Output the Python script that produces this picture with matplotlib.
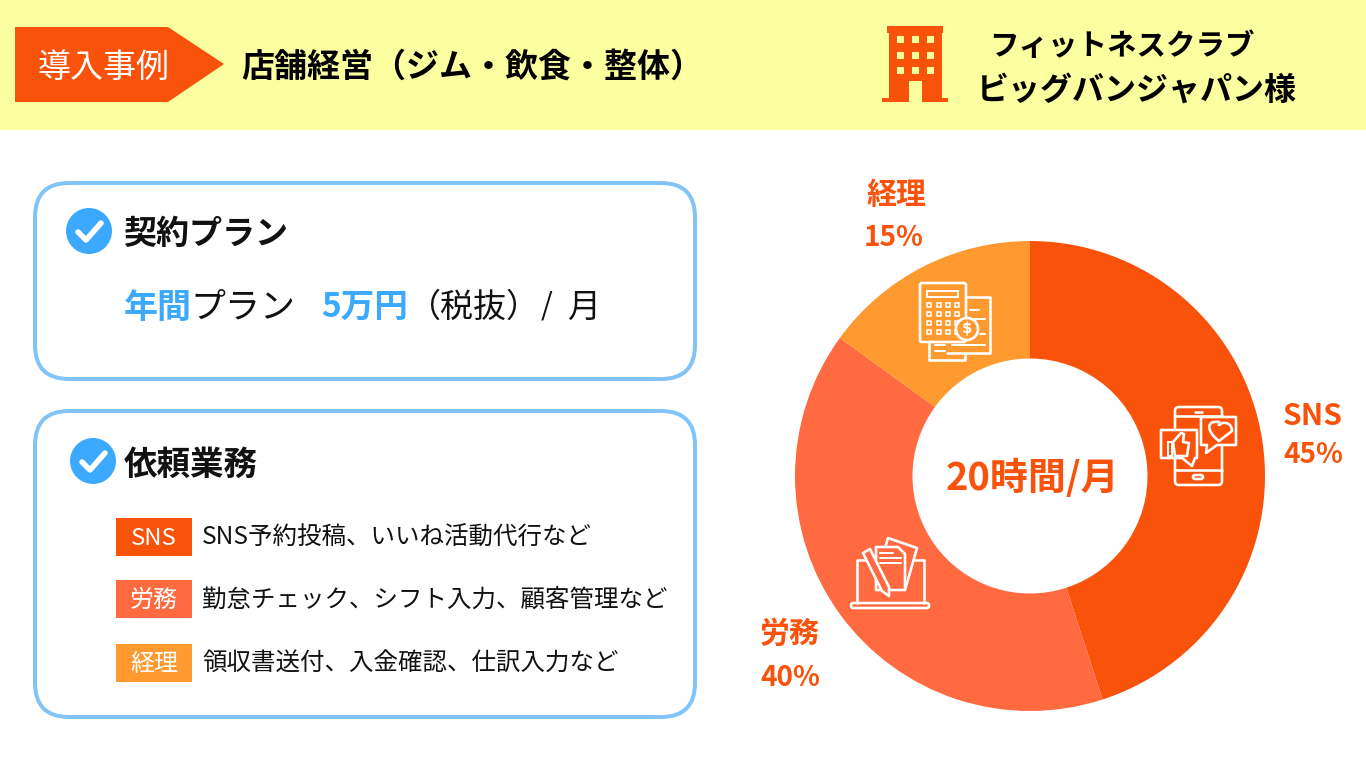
#!/usr/bin/env python3
"""Case study slide: plan summary and monthly work breakdown donut"""

import matplotlib
matplotlib.use('Agg')
import matplotlib.pyplot as plt
from matplotlib.patches import FancyBboxPatch, Polygon, Rectangle, Circle, PathPatch
from matplotlib.path import Path

plt.rcParams['font.family'] = ['Noto Sans CJK JP', 'DejaVu Sans']

# Data
categories = ['SNS', '労務', '経理']
shares = [45, 40, 15]
slice_colors = ['#F9520B', '#FF6A40', '#FF9A30']
task_texts = ['SNS予約投稿、いいね活動代行など',
              '勤怠チェック、シフト入力、顧客管理など',
              '領収書送付、入金確認、仕訳入力など']
center_label = '20時間/月'

ORANGE = '#F9520B'
BLUE = '#3AA9FF'
BORDER = '#82C4F8'
YELLOW = '#FBFFA0'
DARK = '#111111'
ICON_LW = 2.6


def px(size):
    """pixel size to points at dpi 100"""
    return size * 0.72


def label(ax, x, y, s, size, color=DARK, bold=False, ha='left', z=5):
    # CJK glyphs sit a little high with va=center, so nudge down
    ax.text(x, y + size * 0.1, s, color=color, fontsize=px(size),
            fontweight='bold' if bold else 'normal', ha=ha, va='center', zorder=z)


def line(ax, pts, lw=ICON_LW, color='white', z=6):
    xs, ys = zip(*pts)
    ax.plot(xs, ys, color=color, lw=px(lw), zorder=z, solid_capstyle='round',
            solid_joinstyle='round')


def box(ax, x0, y0, x1, y1, lw=ICON_LW, fc='none', ec='white', z=6, r=0):
    style = f"round,pad=0,rounding_size={r}" if r else "square,pad=0"
    ax.add_patch(FancyBboxPatch((x0, y0), x1 - x0, y1 - y0, boxstyle=style,
                                fc=fc, ec=ec, lw=px(lw), zorder=z))


def poly(ax, pts, fc='none', z=7):
    ax.add_patch(Polygon(pts, fc=fc, ec='white', lw=px(ICON_LW), zorder=z, joinstyle='round'))


def check_badge(ax, cx, cy):
    ax.add_patch(Circle((cx, cy), 23, fc=BLUE, ec='none', zorder=3))
    line(ax, [(cx - 11, cy + 1), (cx - 3, cy + 9), (cx + 12, cy - 8)], lw=5.5, z=4)


def building_icon(ax):
    ax.add_patch(Rectangle((887, 26), 56, 7, fc=ORANGE, ec='none', zorder=3))
    ax.add_patch(Rectangle((889, 33), 53, 65, fc=ORANGE, ec='none', zorder=3))
    ax.add_patch(Rectangle((882, 98), 66, 4, fc=ORANGE, ec='none', zorder=3))
    ax.add_patch(Rectangle((909, 81), 13, 21, fc=YELLOW, ec='none', zorder=4))
    for wx in (897, 912, 927):
        for wy in (36, 52, 67):
            ax.add_patch(Rectangle((wx, wy), 7, 7, fc=YELLOW, ec='none', zorder=4))


def calculator_icon(ax):
    # papers behind
    line(ax, [(966, 297), (990, 297), (990, 353), (947, 353)])
    line(ax, [(929, 342), (929, 360), (965, 360), (965, 353)])
    for x0, x1, y in [(970, 979, 310), (973, 985, 319), (980, 985, 334),
                      (935, 945, 345), (935, 945, 351), (952, 985, 345)]:
        line(ax, [(x0, y), (x1, y)], lw=2)
    # calculator
    box(ax, 920, 283, 966, 342, fc=slice_colors[2], r=2)
    box(ax, 927, 291, 958, 297, lw=2)
    for bx in (929, 939, 948, 957):
        for by in (305, 314, 323, 332):
            box(ax, bx - 2.2, by - 2.2, bx + 2.2, by + 2.2, lw=1.6)
    # coin
    ax.add_patch(Circle((967, 329), 11, fc=slice_colors[2], ec='white', lw=px(ICON_LW), zorder=7))
    ax.text(967, 329, '$', color='white', fontsize=px(15), fontweight='bold',
            ha='center', va='center', zorder=8, family='DejaVu Sans')


def phone_icon(ax):
    c = slice_colors[0]
    box(ax, 1175, 407, 1222, 485, r=4)
    line(ax, [(1175, 416), (1222, 416)])
    line(ax, [(1175, 470), (1222, 470)])
    line(ax, [(1195, 412), (1202, 412)])
    box(ax, 1193, 475, 1203, 479, r=2)
    # heart bubble
    poly(ax, [(1201, 417), (1236, 417), (1236, 445), (1217, 445), (1206, 453),
              (1207, 445), (1201, 445)], fc=c)
    heart = Path([(1219, 441), (1206, 431), (1206, 420), (1219, 422), (1219, 426),
                  (1219, 422), (1232, 420), (1232, 431), (1219, 441)],
                 [Path.MOVETO, Path.CURVE4, Path.CURVE4, Path.CURVE4, Path.LINETO,
                  Path.CURVE4, Path.CURVE4, Path.CURVE4, Path.CLOSEPOLY])
    ax.add_patch(PathPatch(heart, fc='none', ec='white', lw=px(ICON_LW), zorder=8))
    # thumb bubble
    poly(ax, [(1161, 430), (1197, 430), (1197, 458), (1195, 458), (1192, 466),
              (1182, 458), (1161, 458)], fc=c)
    poly(ax, [(1173, 442), (1181, 433), (1184, 434), (1183, 442), (1189, 443),
              (1187, 456), (1175, 456)], z=8)
    box(ax, 1168, 442, 1172, 456, lw=2, z=8)


def laptop_icon(ax):
    c = slice_colors[1]
    line(ax, [(857, 603), (857, 560), (924, 560), (924, 603)])
    box(ax, 851, 603, 929, 608, r=2)
    # back sheet
    poly(ax, [(888, 538), (917, 548), (905, 590), (876, 580)], fc=c, z=6)
    # front sheet
    poly(ax, [(876, 547), (898, 547), (905, 554), (905, 590), (876, 590)], fc=c, z=7)
    line(ax, [(880, 553), (893, 553)], lw=2, z=8)
    line(ax, [(880, 558), (901, 558)], lw=2, z=8)
    line(ax, [(880, 563), (901, 563)], lw=2, z=8)
    # pencil
    poly(ax, [(863, 553), (870, 549), (889, 587), (889, 596), (882, 591)], fc=c, z=8)


fig = plt.figure(figsize=(13.66, 7.68), dpi=100, facecolor='white')

# Base layer in pixel coordinates
ax = fig.add_axes([0, 0, 1, 1])
ax.set_xlim(0, 1366)
ax.set_ylim(768, 0)
ax.axis('off')

# Header band
ax.add_patch(Rectangle((0, 0), 1366, 130, fc=YELLOW, ec='none', zorder=1))
ax.add_patch(Polygon([(15, 27), (168, 27), (224, 64), (168, 102), (15, 102)],
                     fc=ORANGE, ec='none', zorder=2))
label(ax, 104, 64, '導入事例', 33, color='white', ha='center')
label(ax, 241, 64, '店舗経営（ジム・飲食・整体）', 33, color='black', bold=True)
building_icon(ax)
label(ax, 1122, 43, 'フィットネスクラブ', 29.5, color='black', bold=True, ha='center')
label(ax, 1137, 87, 'ビッグバンジャパン様', 32, color='black', bold=True, ha='center')

# Plan panel
box(ax, 35, 183, 695, 379, lw=4, ec=BORDER, fc='white', z=2, r=34)
check_badge(ax, 89, 231)
label(ax, 123, 231, '契約プラン', 33, bold=True)
label(ax, 124, 304, '年間', 34, color=BLUE, bold=True)
label(ax, 190, 304, 'プラン', 35)
label(ax, 321, 304, '5万円', 33.5, color=BLUE, bold=True)
label(ax, 407, 304, '（税抜）', 33)
label(ax, 547, 303, '/', 30, ha='center')
label(ax, 568, 304, '月', 33)

# Task panel
box(ax, 35, 411, 695, 717, lw=4, ec=BORDER, fc='white', z=2, r=34)
check_badge(ax, 93, 461)
label(ax, 124, 462, '依頼業務', 33.5, bold=True)
tag_tops = [518, 580, 644]
for tag_top, cat, col, task in zip(tag_tops, categories, slice_colors, task_texts):
    ax.add_patch(Rectangle((116, tag_top), 76, 38, fc=col, ec='none', zorder=3))
    label(ax, 154, tag_top + 18, cat, 24, color='white', ha='center')
    label(ax, 202, tag_top + 17, task, 24.5)

# Donut
pie_ax = fig.add_axes([(1030 - 235) / 1366, (768 - 476 - 235) / 768, 470 / 1366, 470 / 768])
pie_ax.pie(shares, colors=slice_colors, startangle=90, counterclock=False, radius=1,
           wedgeprops=dict(width=0.5))
pie_ax.set_xlim(-1, 1)
pie_ax.set_ylim(-1, 1)

# Overlay for icons and labels
top = fig.add_axes([0, 0, 1, 1])
top.set_xlim(0, 1366)
top.set_ylim(768, 0)
top.axis('off')
top.patch.set_alpha(0)

calculator_icon(top)
phone_icon(top)
laptop_icon(top)

label(top, 1032, 475, center_label, 38, color=ORANGE, bold=True, ha='center')

label_spots = [(1313, 413, 452), (790, 631, 675), (896, 192, 235)]
for (lx, y1, y2), cat, val in zip(label_spots, categories, shares):
    label(top, lx, y1, cat, 30, color=ORANGE, bold=True, ha='center')
    label(top, lx - (2 if cat == '経理' else 0), y2, f'{val}%', 28, color=ORANGE, bold=True, ha='center')

fig.savefig('out.png', dpi=100)
